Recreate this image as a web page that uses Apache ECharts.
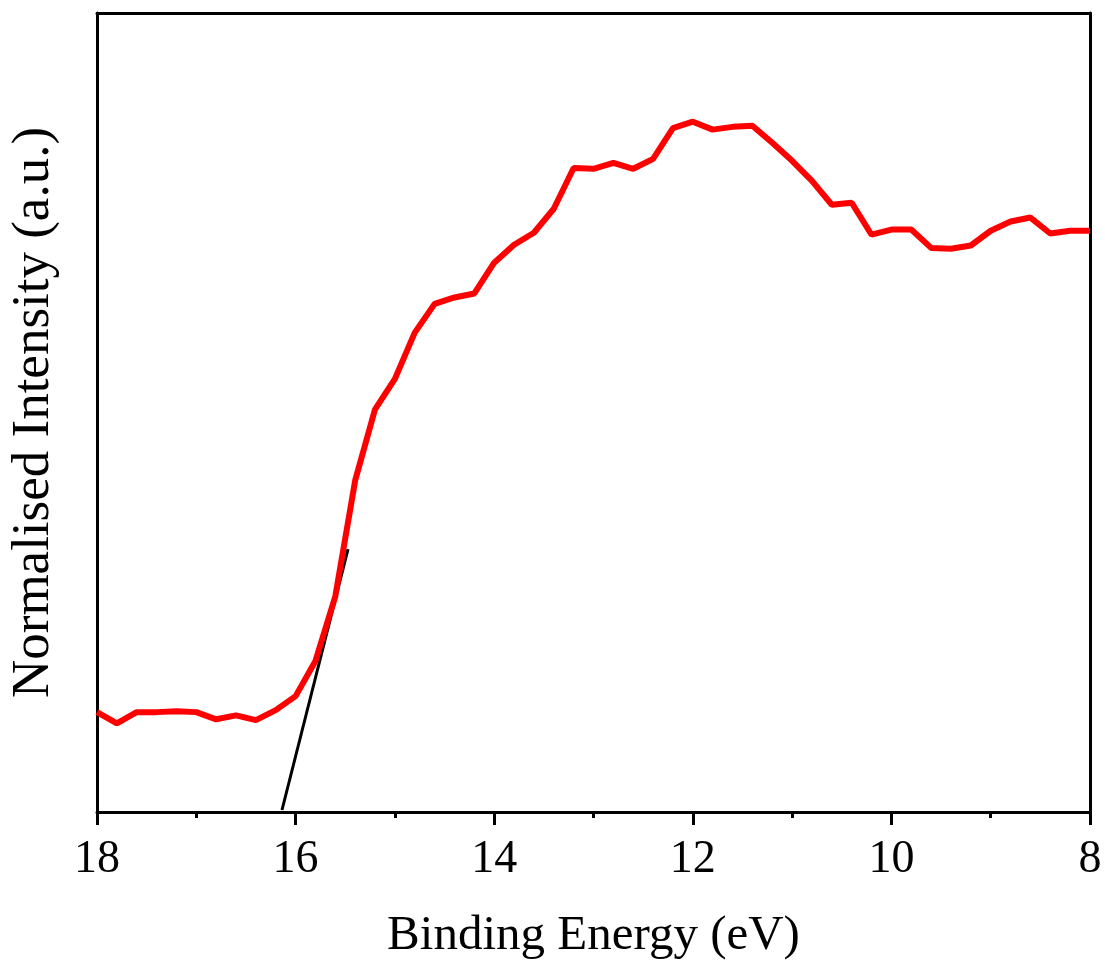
<!DOCTYPE html>
<html>
<head>
<meta charset="utf-8">
<script src="https://cdn.jsdelivr.net/npm/echarts@6/dist/echarts.min.js"></script>
<style>
  html, body { margin: 0; padding: 0; background: #fff; }
  #chart { width: 1105px; height: 966px; }
</style>
</head>
<body>
<div id="chart"></div>
<script>
// Binding energy (eV), 0.2 eV steps from 18 down to 8
const energy = [18.0, 17.8, 17.6, 17.4, 17.2, 17.0, 16.8, 16.6, 16.4, 16.2,
  16.0, 15.8, 15.6, 15.4, 15.2, 15.0, 14.8, 14.6, 14.4, 14.2,
  14.0, 13.8, 13.6, 13.4, 13.2, 13.0, 12.8, 12.6, 12.4, 12.2,
  12.0, 11.8, 11.6, 11.4, 11.2, 11.0, 10.8, 10.6, 10.4, 10.2,
  10.0, 9.8, 9.6, 9.4, 9.2, 9.0, 8.8, 8.6, 8.4, 8.2, 8.0];
// Normalised intensity (arbitrary units, 0-100)
const intensity = [12.5, 11.1, 12.5, 12.5, 12.6, 12.5, 11.6, 12.1, 11.5, 12.75,
  14.5, 18.9, 27.0, 41.5, 50.4, 54.2, 60.0, 63.6, 64.4, 64.9,
  68.75, 71.0, 72.5, 75.5, 80.6, 80.5, 81.25, 80.5, 81.75, 85.6,
  86.4, 85.4, 85.75, 85.9, 83.75, 81.5, 79.0, 76.0, 76.25, 72.25,
  72.9, 72.9, 70.6, 70.5, 70.9, 72.75, 73.9, 74.4, 72.4, 72.75, 72.75];
// Linear extrapolation of the leading edge
const edgeFitX = [16.137, 15.472];
const edgeFitY = [0.25, 32.9];

const xTicks = [18, 16, 14, 12, 10, 8];

const spectrum = energy.map((e, i) => [e, intensity[i]]);
const edgeFit = edgeFitX.map((e, i) => [e, edgeFitY[i]]);

const font = '"Liberation Serif", "Times New Roman", serif';
const frameLine = { show: true, onZero: false, lineStyle: { color: '#000', width: 3 } };
const chart = echarts.init(document.getElementById('chart'), null, { renderer: 'canvas' });

chart.setOption({
  animation: false,
  backgroundColor: '#ffffff',
  grid: { left: 97, right: 15, top: 13, bottom: 154 },
  xAxis: [
    {
      type: 'value',
      min: 8, max: 18, interval: 2, inverse: true,
      name: 'Binding Energy (eV)',
      nameLocation: 'middle',
      nameGap: 100,
      nameTextStyle: { fontFamily: font, fontSize: 49, color: '#000' },
      axisLine: frameLine,
      axisTick: { show: true, inside: false, length: 13, lineStyle: { color: '#000', width: 3 } },
      minorTick: { show: true, splitNumber: 2, length: 6, lineStyle: { color: '#000', width: 3 } },
      splitLine: { show: false },
      axisLabel: {
        fontFamily: font, fontSize: 46, color: '#000', margin: 25,
        formatter: v => xTicks.includes(v) ? String(v) : ''
      }
    },
    {
      // top frame edge
      type: 'value', position: 'top',
      min: 8, max: 18, inverse: true,
      axisLine: frameLine,
      axisTick: { show: false }, axisLabel: { show: false }, splitLine: { show: false }
    }
  ],
  yAxis: [
    {
      type: 'value',
      min: 0, max: 100,
      name: 'Normalised Intensity (a.u.)',
      nameLocation: 'middle',
      nameGap: 36,
      nameTextStyle: { fontFamily: font, fontSize: 53, color: '#000' },
      axisLine: frameLine,
      axisTick: { show: false },
      axisLabel: { show: false },
      splitLine: { show: false }
    },
    {
      // right frame edge
      type: 'value', position: 'right',
      min: 0, max: 100,
      axisLine: frameLine,
      axisTick: { show: false }, axisLabel: { show: false }, splitLine: { show: false }
    }
  ],
  series: [
    {
      type: 'line',
      data: spectrum,
      showSymbol: false,
      lineStyle: { color: '#ff0000', width: 6 },
      z: 3
    },
    {
      type: 'line',
      data: edgeFit,
      showSymbol: false,
      lineStyle: { color: '#000000', width: 3 },
      z: 2
    }
  ]
});
</script>
</body>
</html>
